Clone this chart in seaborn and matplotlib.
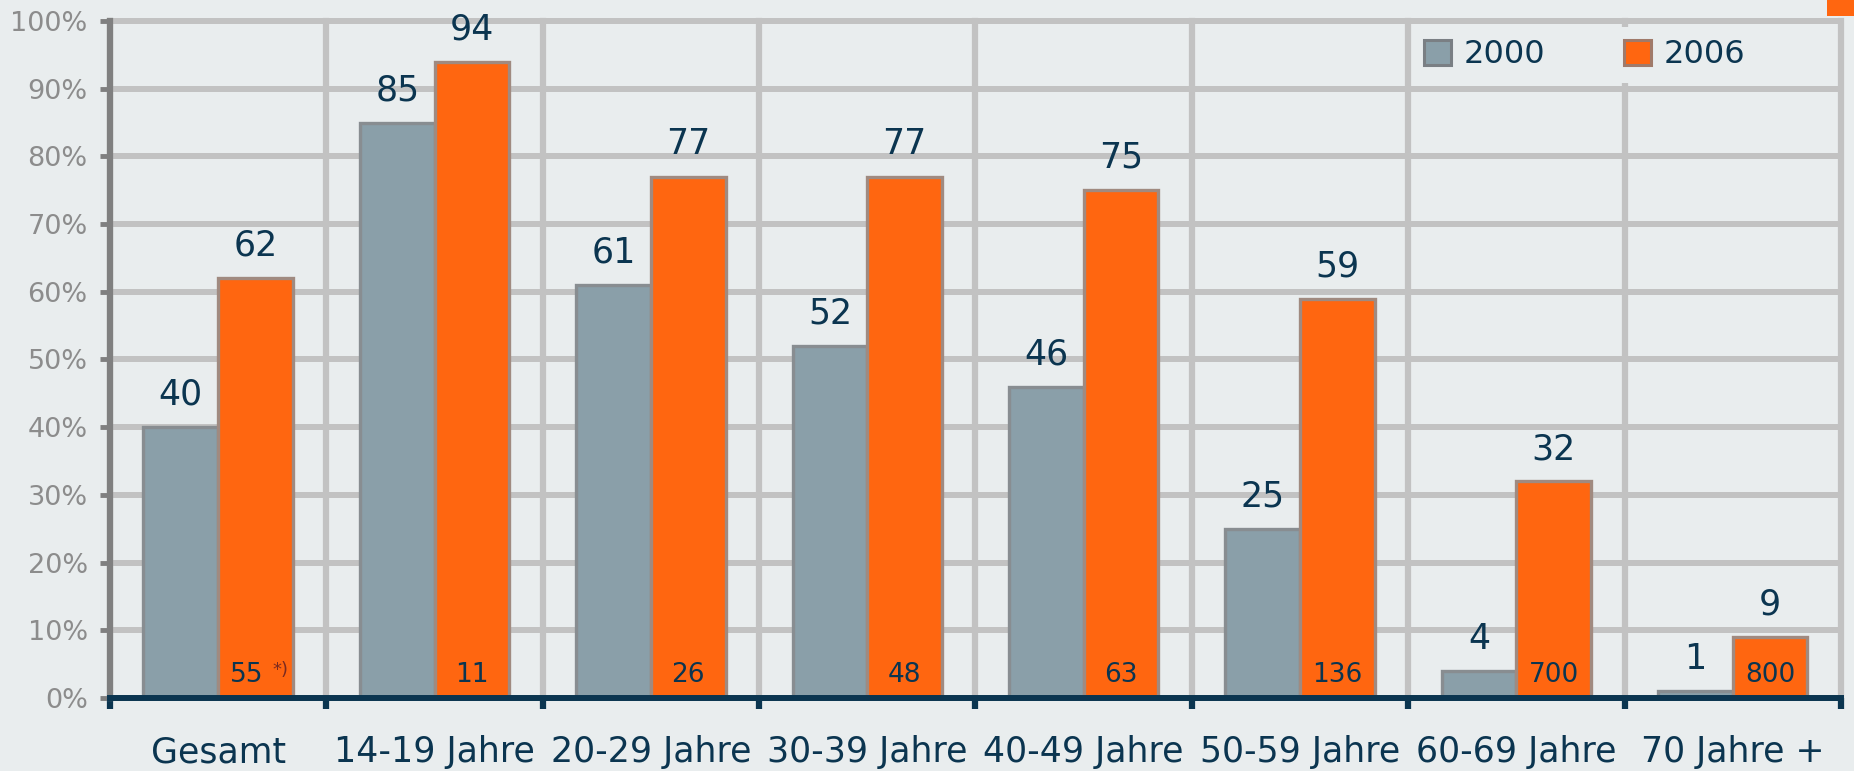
import numpy as np
import pandas as pd
import matplotlib.pyplot as plt
import seaborn as sns
from matplotlib.patches import Patch, Rectangle

groups = ['Gesamt', '14-19 Jahre', '20-29 Jahre', '30-39 Jahre', '40-49 Jahre',
          '50-59 Jahre', '60-69 Jahre', '70 Jahre +']
years = ['2000', '2006']
v2000 = [40, 85, 61, 52, 46, 25, 4, 1]
v2006 = [62, 94, 77, 77, 75, 59, 32, 9]
inner = ['55', '11', '26', '48', '63', '136', '700', '800']
yticks = list(range(0, 101, 10))

bg = '#e9edee'
grey = '#8a9fa9'
orange = '#ff6610'
navy = '#0b3550'
gridc = '#c2c2c2'

df = pd.DataFrame({
    'Gruppe': groups * 2,
    'Jahr': [years[0]] * len(groups) + [years[1]] * len(groups),
    'Wert': v2000 + v2006,
})

plt.rcParams['font.family'] = ['DejaVu Sans']
fig = plt.figure(figsize=(18.54, 7.71), dpi=100, facecolor=bg)
ax = fig.add_axes([0.0593, 0.0947, 0.9337, 0.8781])
ax.set_facecolor(bg)

sns.barplot(data=df, x='Gruppe', y='Wert', hue='Jahr', palette=[grey, orange],
            width=0.69, gap=0, saturation=1, ax=ax, linewidth=2.4, zorder=3)

edges = ['#888d91', '#a08a80']
for cont, ec in zip(ax.containers, edges):
    for bar in cont:
        bar.set_edgecolor(ec)
        bar.set_zorder(3)

for cont, vals in zip(ax.containers, [v2000, v2006]):
    ax.bar_label(cont, labels=[str(v) for v in vals], padding=11,
                 fontsize=25, color=navy)

for i, bar in enumerate(ax.containers[1]):
    xc = bar.get_x() + bar.get_width() / 2
    if i == 0:
        ax.text(xc - 0.04, 1.5, inner[i], ha='center', va='bottom',
                fontsize=19, color=navy, zorder=5)
        ax.text(xc + 0.115, 2.8, '*)', ha='center', va='bottom',
                fontsize=13, color='#7a2a20', zorder=5)
    else:
        ax.text(xc, 1.5, inner[i], ha='center', va='bottom',
                fontsize=19, color=navy, zorder=5)

ax.set_ylim(0, 100)
ax.set_xlim(-0.5, len(groups) - 0.5)
ax.set_yticks(yticks)
ax.set_yticklabels([f'{t}%' for t in yticks])
ax.tick_params(axis='y', length=7, width=3.5, color='#808080', pad=9,
               labelsize=19.5, labelcolor='#8c8c8c')

ax.set_xticks(np.arange(len(groups)), labels=groups, minor=True)
ax.set_xticks(np.arange(-0.5, len(groups) + 0.5, 1))
ax.set_xticklabels([])
ax.tick_params(axis='x', which='minor', length=0, pad=27, labelsize=25,
               labelcolor=navy)
ax.tick_params(axis='x', which='major', length=7.7, width=4.5, color=navy)

ax.set_axisbelow(True)
ax.grid(axis='x', which='major', color=gridc, lw=4.5)
ax.grid(axis='y', color=gridc, lw=4.3)
for ln in ax.get_xgridlines() + ax.get_ygridlines():
    ln.set_clip_on(False)

for s in ['top', 'right']:
    ax.spines[s].set_visible(False)
ax.spines['left'].set_color('#808080')
ax.spines['left'].set_linewidth(4.5)
ax.spines['bottom'].set_color(navy)
ax.spines['bottom'].set_linewidth(4.3)
ax.spines['bottom'].set_zorder(4)
ax.set_xlabel('')
ax.set_ylabel('')

ax.get_legend().remove()
handles = [Patch(facecolor=grey, edgecolor='#7a7f84', lw=2.2),
           Patch(facecolor=orange, edgecolor='#a07a6a', lw=2.2)]
leg = ax.legend(handles, years, ncol=2, loc='center', bbox_to_anchor=(0.852, 0.95),
                fontsize=23, frameon=True, facecolor=bg, edgecolor='none', framealpha=1,
                handlelength=0.84, handleheight=0.84, handletextpad=0.4,
                columnspacing=2.45, borderpad=0.4)
for t in leg.get_texts():
    t.set_color(navy)
leg.set_zorder(6)

fig.add_artist(Rectangle((1827 / 1854, 1 - 16 / 771), 27 / 1854, 16 / 771,
                         transform=fig.transFigure, facecolor=orange, edgecolor='none'))

fig.savefig('out.png', dpi=100, facecolor=bg)
